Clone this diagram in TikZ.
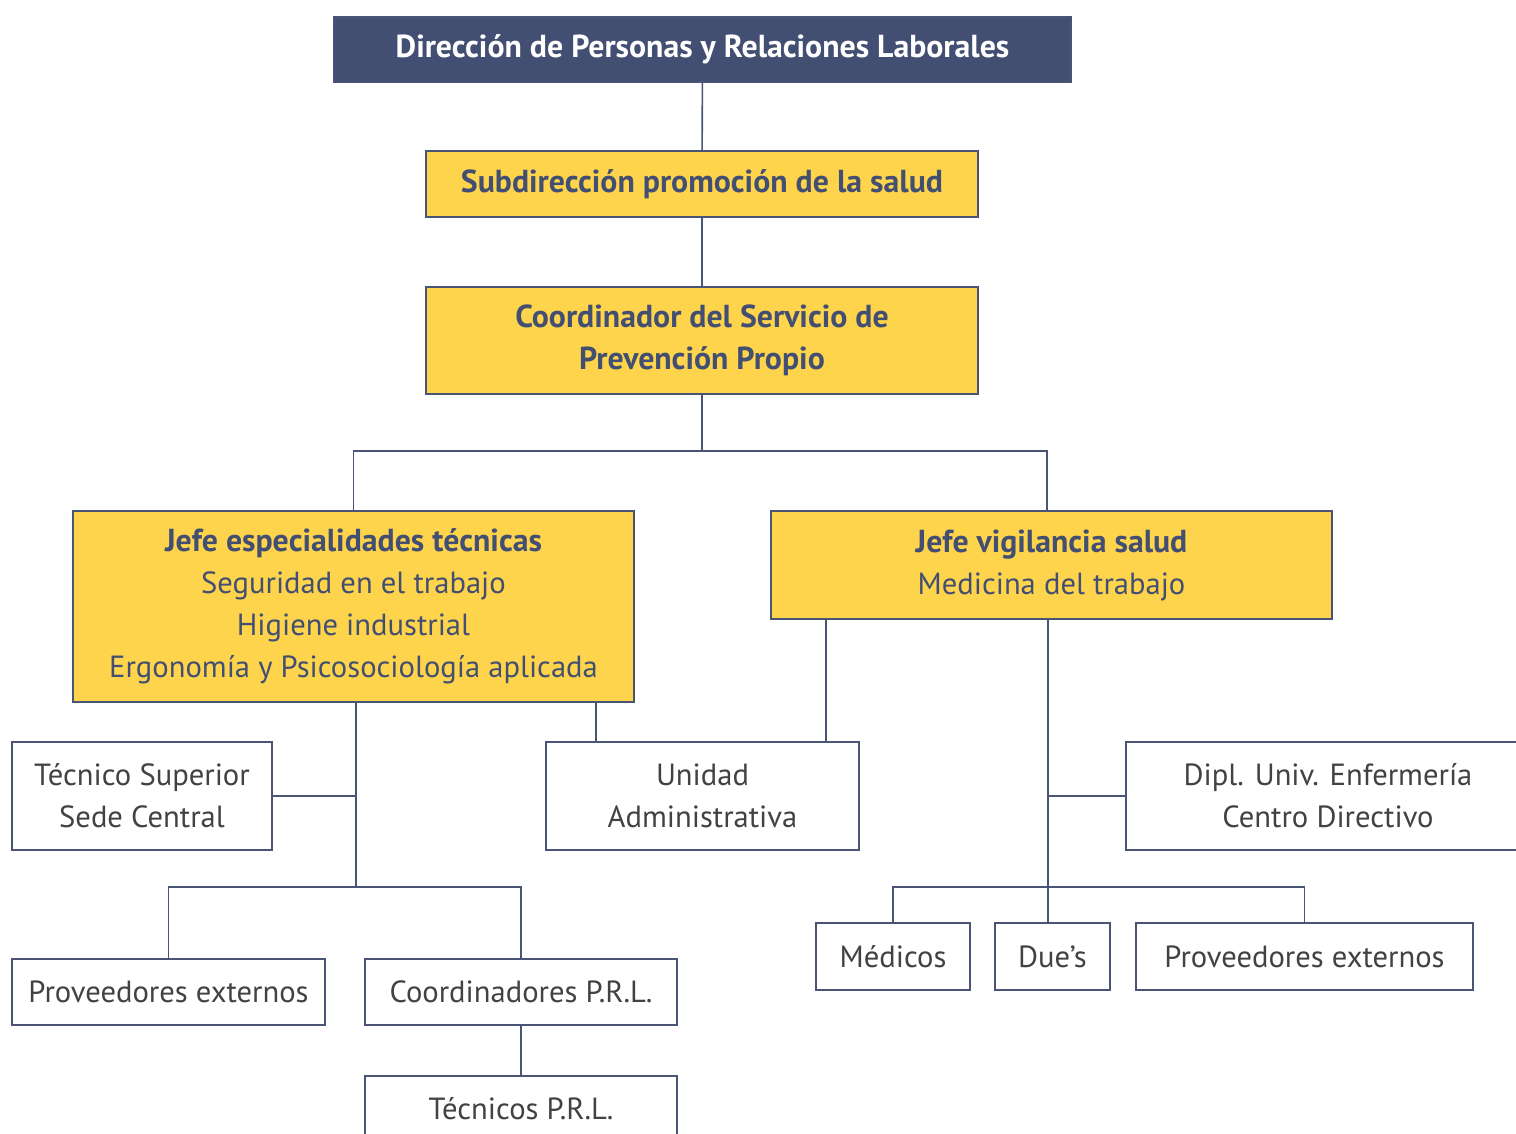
\documentclass[tikz,border=0pt]{standalone}
\usepackage{fontspec}
\setmainfont{PT Sans}
\usepackage{xcolor}
\usepackage{tikz}
\definecolor{org-navy}{RGB}{67, 79, 114}
\definecolor{org-gold}{RGB}{253, 212, 75}
\definecolor{org-line}{RGB}{74, 84, 117}
\definecolor{org-text}{RGB}{66, 66, 66}
\newcommand{\orghead}[1]{{\fontsize{15.9}{21}\bfseries #1}}

\begin{document}
\begin{tikzpicture}[x = 0.5pt, y = -0.5pt,
    base/.style = {draw = org-line, line width = 0.8pt, inner sep = 0pt, align = center,
      font = \fontsize{15.3}{21}\selectfont},
    headbox/.style = {base, fill = org-navy, text = white, font = \fontsize{15.9}{21}\bfseries},
    goldbox/.style = {base, fill = org-gold, text = org-navy},
    plainbox/.style = {base, fill = white, text = org-text},
    link/.style = {draw = org-line, line width = 0.8pt}]
          \useasboundingbox (0, 0) rectangle (1516, 1134);
          \clip (0, 0) rectangle (1516, 1134);

          % upper chain
          \node[headbox, minimum width = 368.5pt, minimum height = 32.5pt] (dir) at (702.5, 49.5)
            {Dirección de Personas y Relaciones Laborales};
          \node[goldbox, minimum width = 276pt, minimum height = 33pt] (subdir) at (702, 184)
            {\orghead{Subdirección promoción de la salud}};
          \node[goldbox, minimum width = 276pt, minimum height = 53.5pt] (coord) at (702, 340.5)
            {\orghead{Coordinador del Servicio de}\\ \orghead{Prevención Propio}};

          % heads
          \node[goldbox, minimum width = 280.5pt, minimum height = 95.5pt] (tecn) at (353.5, 606.5)
            {\orghead{Jefe especialidades técnicas}\\ Seguridad en el trabajo\\ Higiene industrial\\
             Ergonomía y Psicosociología aplicada};
          \node[goldbox, minimum width = 280.5pt, minimum height = 54pt] (vigi) at (1051.5, 565)
            {\orghead{Jefe vigilancia salud}\\ Medicina del trabajo};

          % second row
          \node[plainbox, minimum width = 130pt, minimum height = 54pt] (tsup) at (142, 796)
            {Técnico Superior\\ Sede Central};
          \node[plainbox, minimum width = 156.5pt, minimum height = 54pt] (unid) at (702.5, 796)
            {Unidad\\ Administrativa};
          \node[plainbox, minimum width = 202pt, minimum height = 54pt] (dipl) at (1328, 796)
            {Dipl. Univ. Enfermería\\ Centro Directivo};

          % lower rows
          \node[plainbox, minimum width = 156.5pt, minimum height = 33pt] (provl) at (168.5, 992)
            {Proveedores externos};
          \node[plainbox, minimum width = 156pt, minimum height = 33pt] (cprl) at (521, 992)
            {Coordinadores P.R.L.};
          \node[plainbox, minimum width = 156pt, minimum height = 33pt] (tprl) at (521, 1109)
            {Técnicos P.R.L.};
          \node[plainbox, minimum width = 77pt, minimum height = 33.5pt] (medi) at (893, 956.5)
            {Médicos};
          \node[plainbox, minimum width = 57.5pt, minimum height = 33.5pt] (dues) at (1052.5, 956.5)
            {Due’s};
          \node[plainbox, minimum width = 168.5pt, minimum height = 33.5pt] (provr) at (1304.5, 956.5)
            {Proveedores externos};

          \coordinate (split) at (702, 451);
          \coordinate (jl) at (356, 887);
          \coordinate (jr) at (1048, 887);

          \draw[link] (dir) -- (subdir);
          \draw[link] (subdir) -- (coord);
          \draw[link] (coord) -- (split);
          \draw[link] (tecn.north) |- (split) -| (vigi.north -| 1047, 0);

          % left branch
          \draw[link] (jl |- tecn.south) -- (jl);
          \draw[link] (tsup.east) -- (tsup.east -| jl);
          \draw[link] (provl.north) |- (jl) -| (cprl.north);
          \draw[link] (cprl) -- (tprl);
          \draw[link] (unid.north west) ++(51, 0) coordinate (ua) -- (ua |- tecn.south);
          \draw[link] (unid.north east) ++(-34, 0) coordinate (ub) -- (ub |- vigi.south);

          % right branch
          \draw[link] (jr |- vigi.south) -- (jr |- dues.north);
          \draw[link] (dipl.west) -- (dipl.west -| jr);
          \draw[link] (medi.north) |- (jr) -| (provr.north);
        \end{tikzpicture}
\end{document}
